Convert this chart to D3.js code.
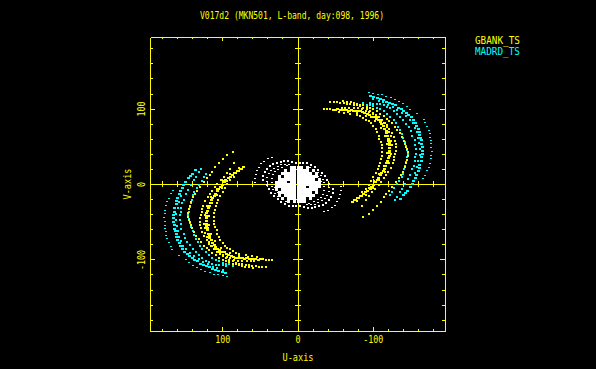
<!DOCTYPE html>
<html><head><meta charset="utf-8">
<script src="https://cdn.jsdelivr.net/npm/d3@7/dist/d3.min.js"></script>
<style>html,body{margin:0;padding:0;background:#000;overflow:hidden}svg{display:block}</style>
</head><body><svg id="c" width="596" height="369"></svg>
<script>
const titleText = "V017d2 (MKN501, L-band, day:098, 1996)";
const xLabel = "U-axis", yLabel = "V-axis";
const legendNames = ["GBANK_TS", "MADRD_TS"];
const majorTicks = [-100, 0, 100];
const minorTicks = [-180,-160,-140,-120,-80,-60,-40,-20,20,40,60,80,120,140,160,180];

const yellowCore = [[-50,99],[-53,100],[-56,99],[-59,99],[-62,99],[-65,99],[-68,98],[-71,99],[-74,98],[-77,98],[-80,98],[-83,97],[-86,96],[-89,95],[-92,93],[-95,92],[-98,90],[-101,89],[-104,87],[-107,85],[-109,83],[-111,80],[-113,77],[-115,74],[-117,71],[-118,68],[-119,65],[-120,61],[-120,58],[-121,55],[-122,52],[-122,48],[-122,45],[-121,42],[-121,38],[-120,35],[-119,31],[-118,28],[-116,24],[-115,21],[-113,18],[-111,15],[-109,12],[-107,9],[-105,6],[-103,3],[-100,0],[-98,-3],[-96,-6],[-93,-8],[-90,-10],[-87,-13],[-84,-15],[-80,-18],[-76,-20],[-72,-23]];
const yellowCoreB = [[-58,102],[-63,102],[-68,102],[-74,101],[-80,101],[-85,100],[-90,98],[-95,96],[-100,93],[-105,90],[-110,86],[-114,81],[-118,76],[-121,70],[-123,64],[-124,58],[-125,52],[-124,40],[-121,28],[-116,17],[-108,6],[-100,-4],[-90,-14],[-78,-22]];
const yellowCoreC = [[-54,96],[-66,96],[-78,95],[-90,91],[-102,84],[-110,75],[-115,65],[-118,54],[-118,42],[-114,25],[-108,14],[-101,4],[-94,-4],[-85,-10]];
const yellowInner = [[-34,100],[-38,100],[-43,100],[-47,99],[-61,95],[-69,94],[-78,92],[-83,91],[-87,88],[-91,86],[-94,84],[-97,81],[-100,77],[-103,74],[-105,70],[-107,65],[-108,61],[-110,56],[-111,52],[-111,48],[-111,43],[-111,38],[-110,34],[-109,29],[-107,25],[-106,21],[-103,15],[-100,10],[-97,5],[-94,-1],[-91,-6],[-87,-12],[-82,-15],[-78,-18],[-74,-21]];
const yellowMid = [[-43,110],[-48,109],[-52,109],[-56,108],[-61,108],[-65,107],[-69,107],[-74,106],[-78,105],[-83,104],[-87,102],[-92,100],[-96,98],[-100,95],[-104,92],[-107,90],[-111,86],[-115,82],[-118,79],[-121,74],[-125,68],[-127,63],[-129,58],[-130,54],[-130,50],[-130,45],[-129,41],[-128,36],[-127,32],[-126,28],[-123,22],[-120,17],[-117,12],[-114,8],[-110,3],[-107,-1],[-102,-6],[-98,-10],[-94,-15],[-90,-20],[-85,-28],[-86,-43]];
const yellowOuter = [[-60,111],[-65,110],[-70,109],[-74,108],[-79,107],[-83,106],[-87,105],[-92,103],[-96,101],[-100,100],[-105,97],[-109,94],[-114,91],[-118,87],[-121,84],[-125,81],[-129,76],[-132,72],[-136,68],[-138,63],[-141,58],[-142,54],[-144,50],[-145,47],[-146,43],[-146,38],[-145,33],[-144,28],[-142,23],[-139,17],[-137,13],[-134,8],[-130,3],[-125,-3],[-121,-8],[-117,-13],[-114,-17],[-110,-23],[-105,-29],[-99,-34],[-94,-39]];

const cyanCore = [[-96,117],[-100,116],[-105,115],[-109,114],[-113,112],[-117,110],[-121,108],[-125,107],[-129,105],[-133,102],[-137,100],[-140,98],[-144,95],[-147,92],[-151,89],[-154,86],[-156,82],[-158,78],[-160,74],[-161,70],[-162,66],[-163,62],[-164,59],[-164,54],[-165,50],[-165,45],[-165,41],[-164,36],[-164,31],[-162,26],[-161,22],[-160,18],[-158,13],[-156,9],[-154,5],[-152,1],[-149,-3],[-146,-8],[-143,-11],[-140,-14],[-136,-19]];
const cyanCoreC = [[-100,113],[-107,111],[-113,109],[-120,106],[-126,103],[-132,99],[-138,95],[-144,91],[-149,86],[-153,81],[-156,75],[-158,69],[-160,62],[-161,55],[-162,47],[-162,39],[-160,31],[-158,23],[-156,15]];
const cyanOuter = [[-95,122],[-100,121],[-106,120],[-111,119],[-117,117],[-123,115],[-129,113],[-134,110],[-139,107],[-145,103],[-149,100],[-158,94],[-167,86],[-169,82],[-171,77],[-174,72],[-175,67],[-176,62],[-177,58],[-177,54],[-177,49],[-178,44],[-177,39],[-177,34],[-175,28],[-174,23],[-172,18],[-169,12],[-166,8]];
const cyanInner = [[-96,108],[-100,107],[-105,107],[-109,107],[-114,105],[-118,103],[-122,101],[-127,97],[-131,94],[-136,90],[-140,85],[-144,80],[-147,76],[-150,71],[-152,65],[-155,59],[-156,53],[-157,47],[-157,41],[-156,36],[-155,31],[-154,25],[-152,20],[-149,12],[-146,7],[-142,1],[-138,-6],[-136,-10],[-132,-16],[-129,-21]];
const cyanInnermost = [[-87,108],[-92,106],[-96,105],[-100,104],[-105,102],[-109,100],[-114,98],[-118,94],[-122,90],[-127,85],[-130,81],[-133,76],[-136,72],[-138,67],[-140,62],[-142,57],[-144,51],[-145,46],[-146,41],[-145,36],[-144,30],[-142,25],[-141,20],[-139,14],[-138,10],[-134,5],[-131,1],[-128,-5],[-125,-10],[-122,-14],[-114,-17]];

const whiteBlob = [
[0,0],[4,0],[8,0],[12,0],[16,0],[20,0],[24,0],[28,0],
[-28,2],[-24,2],[-20,2],[-16,2],[-12,2],[-8,2],[-4,2],[0,2],[4,2],[8,2],[16,2],[20,2],[24,2],[28,2],
[-28,6],[-20,6],[-16,6],[-12,6],[-8,6],[-4,6],[0,6],[4,6],[8,6],[12,6],[16,6],[20,6],[24,6],
[-24,10],[-20,10],[-16,10],[-12,10],[-8,10],[-4,10],[0,10],[4,10],[8,10],[12,10],[16,10],[24,10],
[-24,14],[-16,14],[-12,14],[-8,14],[-4,14],[0,14],[4,14],[8,14],[12,14],[16,14],[20,14],
[-20,18],[-12,18],[-8,18],[-4,18],[0,18],[4,18],[8,18],[16,18],
[-12,22],[-4,22],[0,22],[4,22],[8,22]];
const whiteRingOuter = [[57,3],[57,8],[56,13],[54,18],[52,23],[49,28],[45,31],[40,34],[35,36]];
const whiteRingA = [[47,6],[46,11],[44,16],[41,20],[37,24],[33,27],[28,29],[23,30],[18,31],[13,31],[8,30],[3,29],[-2,29],[-7,28],[-12,28],[-17,26],[-22,23],[-27,19],[-32,15],[-36,11],[-39,6],[-41,1]];
const whiteRingB = [[41,4],[41,9],[39,14],[36,18],[32,21],[27,24],[22,26],[17,27],[12,27],[-16,22],[-21,20],[-26,16],[-30,12],[-33,7],[-35,2]];
const whiteRingC = [[35,3],[35,8],[33,13],[30,17],[26,20],[21,23],[15,25],[-27,10],[-31,4]];

const W = 596, H = 369;
const x = d3.scaleLinear().domain([196, -196]).range([150, 445]);
const y = d3.scaleLinear().domain([195, -195]).range([37, 331]);
const YEL = "#ffff00", CY = "#00ffff", WH = "#ffffff";
const FONT = "'DejaVu Sans Mono', monospace";
const svg = d3.select("#c").style("background", "#000");
svg.append("rect").attr("width", W).attr("height", H).attr("fill", "#000");

function ax(maker, scale, ticks, inner, tx, ty) {
  const g = svg.append("g").attr("transform", `translate(${tx},${ty})`)
    .call(maker(scale).tickValues(ticks).tickSizeInner(inner).tickSizeOuter(0).tickFormat(""));
  g.selectAll("path,line").attr("stroke", YEL).attr("stroke-width", 1).attr("shape-rendering", "crispEdges");
  g.selectAll("text").remove();
  g.selectAll("path").attr("fill", "none");
  return g;
}
const x0 = Math.round(x(0)), y0 = Math.round(y(0));
const nz = majorTicks.filter(d => d);
ax(d3.axisBottom, x, minorTicks, -2, 0, 331);
ax(d3.axisBottom, x, nz, -4, 0, 331);
ax(d3.axisTop, x, minorTicks, -2, 0, 37);
ax(d3.axisTop, x, nz, -4, 0, 37);
ax(d3.axisLeft, y, minorTicks, -3, 150, 0);
ax(d3.axisLeft, y, nz, -5, 150, 0);
ax(d3.axisRight, y, minorTicks, -3, 445, 0);
ax(d3.axisRight, y, nz, -5, 445, 0);
[3, -3].forEach(s => {
  ax(d3.axisBottom, x, minorTicks, s, 0, y0);
  ax(d3.axisLeft, y, minorTicks, s, x0, 0);
});
[5, -5].forEach(s => {
  ax(d3.axisBottom, x, nz, s, 0, y0);
  ax(d3.axisLeft, y, nz, s, x0, 0);
});

const conj = pts => pts.concat(pts.map(p => [-p[0], -p[1]]));
function dots(pts, color, w, h) {
  svg.append("g").attr("fill", color).attr("shape-rendering", "crispEdges")
    .selectAll("rect").data(conj(pts)).join("rect")
    .attr("x", d => Math.round(x(d[0]) - w / 2 + 0.5))
    .attr("y", d => Math.round(y(d[1]) - h / 2 + 0.5))
    .attr("width", w).attr("height", h);
}
dots(whiteBlob, WH, 3, 3);
[whiteRingOuter, whiteRingB, whiteRingC].forEach(t => dots(t, WH, 2, 1));
dots(whiteRingA, WH, 2, 2);
dots(cyanOuter, CY, 2, 1);
[cyanInner, cyanInnermost, cyanCoreC].forEach(t => dots(t, CY, 2, 2));
dots(cyanCore, CY, 3, 2);
[yellowInner, yellowMid, yellowOuter].forEach(t => dots(t, YEL, 2, 2));
[yellowCoreB, yellowCoreC].forEach(t => dots(t, YEL, 2, 2));
dots(yellowCore, YEL, 3, 2);

function label(t, px, py, len, anchor, color, rot) {
  const e = svg.append("text").text(t).attr("fill", color || YEL)
    .attr("font-family", FONT).attr("font-size", 10)
    .attr("textLength", len).attr("lengthAdjust", "spacingAndGlyphs")
    .attr("text-anchor", anchor || "middle");
  if (rot) e.attr("transform", `translate(${px},${py}) rotate(-90)`);
  else e.attr("x", px).attr("y", py);
}
label(titleText, 292, 19, 184);
label(xLabel, 298, 361, 31);
label(yLabel, 131, 184, 31, "middle", YEL, true);
label(legendNames[0], 475, 44, 45, "start", YEL);
label(legendNames[1], 475, 55, 45, "start", CY);
majorTicks.forEach(v => {
  const s = String(v), L = s.length * 5;
  label(s, x(v) + 0.5, 343, L);
  label(s, 145, y(v) + 0.5, L, "middle", YEL, true);
});
</script></body></html>
